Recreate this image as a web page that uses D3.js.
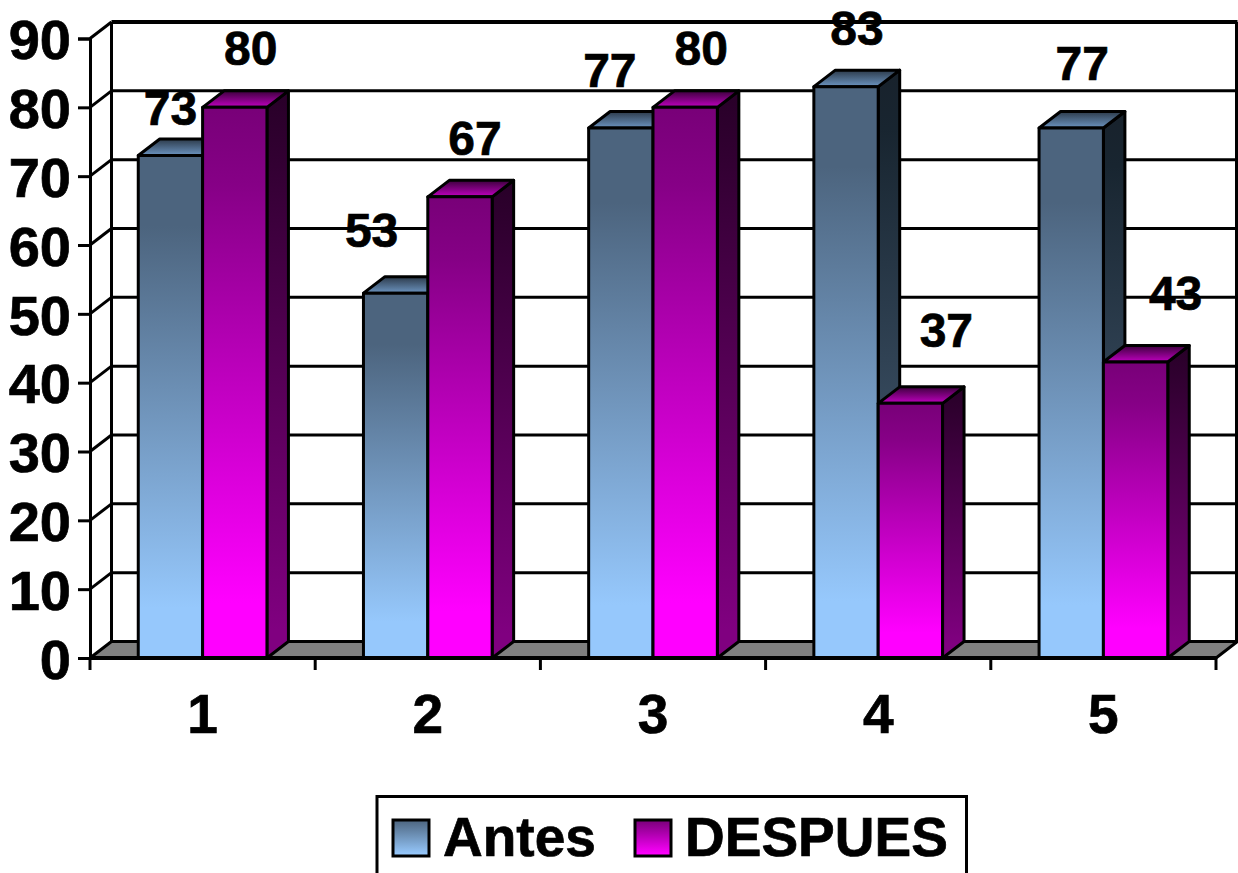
<!DOCTYPE html>
<html>
<head>
<meta charset="utf-8">
<script src="https://cdn.jsdelivr.net/npm/d3@7/dist/d3.min.js"></script>
<style>
html,body{margin:0;padding:0;background:#fff;overflow:hidden}
text{font-family:"Liberation Sans",Arial,sans-serif;font-weight:700;fill:#000;stroke:#000;stroke-width:0.7px}
</style>
</head>
<body>
<svg id="chart" width="1238" height="873"></svg>
<script>
// Chart data
const categories = ["1", "2", "3", "4", "5"];
const seriesNames = ["Antes", "DESPUES"];
const antes = [73, 53, 77, 83, 77];
const despues = [80, 67, 80, 37, 43];
const yTicks = [0, 10, 20, 30, 40, 50, 60, 70, 80, 90];

// Hand-placed label nudges (pixels from the default spot above each bar's centre)
const antesLabelNudge = [[0, 0], [-24, -15], [-11, -10], [11, -11], [11, -17]];
const despuesLabelNudge = [[16, -11], [15, -11], [16, -11], [36, -25], [40, -21]];

const svg = d3.select("#chart");
const depthX = 21.5, depthY = 16.5;
const x = d3.scaleBand().domain(categories).range([90, 1216]);
const y = d3.scaleLinear().domain([0, 90]).range([658, 38.5]);
const bx = d3.scaleBand().domain(seriesNames).range([0, x.bandwidth()])
  .paddingInner(0).paddingOuter(0.75);

// Vertical colour ramps for the faces of each series
const palettes = {
  Antes:   {front: ["#4c647e", "#4c647e", "#96c8fc"], side: ["#18222c", "#182530", "#4c647e"], top: ["#2c3a4a", "#6c94c0"]},
  DESPUES: {front: ["#780078", "#860086", "#ff00ff"], side: ["#280028", "#300030", "#800080"], top: ["#3c003c", "#c000c0"]}
};
const defs = svg.append("defs");
function ramp(id, colours, offsets) {
  const g = defs.append("linearGradient").attr("id", id)
    .attr("x1", 0).attr("y1", 0).attr("x2", 0).attr("y2", 1);
  colours.forEach((c, i) => g.append("stop").attr("offset", offsets[i]).attr("stop-color", c));
}
seriesNames.forEach(s => {
  ramp(s + "-front", palettes[s].front, [0, 0.14, 0.9]);
  ramp(s + "-side", palettes[s].side, [0, 0.1, 0.95]);
  ramp(s + "-top", palettes[s].top, [0, 1]);
  ramp(s + "-key", [palettes[s].front[0], palettes[s].front[2]], [0, 0.95]);
});

const line = (g, x1, y1, x2, y2, w = 3) => g.append("line")
  .attr("x1", x1).attr("y1", y1).attr("x2", x2).attr("y2", y2)
  .attr("stroke", "#000").attr("stroke-width", w);

const [xL, xR] = x.range();
const y0 = y(0), yMax = y(90);

// Floor of the 3-D box
svg.append("polygon").attr("fill", "#808080").attr("stroke", "#000").attr("stroke-width", 3)
  .attr("stroke-linejoin", "round")
  .attr("points", [[xL, y0], [xL + depthX, y0 - depthY], [xR + depthX, y0 - depthY], [xR, y0]].join(" "));

// Back wall gridlines and their returns along the side wall
const walls = svg.append("g");
yTicks.forEach(t => {
  if (t > 0) line(walls, xL, y(t), xL + depthX, y(t) - depthY, 3);
  line(walls, xL + depthX, y(t) - depthY, xR + depthX, y(t) - depthY, t === 90 ? 4 : 3);
});
line(walls, xL + depthX, y(90) - depthY, xL + depthX, y0 - depthY, 3);
line(walls, xR + depthX - 1, y(90) - depthY, xR + depthX - 1, y0 - depthY, 3);

// Axes
const yAxis = d3.axisLeft(y).tickValues(yTicks).tickSize(12).tickPadding(7);
const xAxis = d3.axisBottom(x).tickSize(0).tickPadding(0);
const gy = svg.append("g").attr("transform", `translate(${xL},0)`).call(yAxis);
gy.selectAll("line").attr("stroke", "#000").attr("stroke-width", 3);
gy.select(".domain").attr("stroke", "#000").attr("stroke-width", 3);
gy.selectAll("text").attr("font-size", 56).attr("fill", "#000").attr("dy", "0.36em")
  .style("font-family", '"Liberation Sans",Arial,sans-serif').style("font-weight", 700);

const gx = svg.append("g").attr("transform", `translate(0,${y0})`).call(xAxis);
gx.select(".domain").remove();
gx.selectAll("text").attr("font-size", 55).attr("fill", "#000").attr("y", 75).attr("dy", 0)
  .style("font-family", '"Liberation Sans",Arial,sans-serif').style("font-weight", 700);
// Category separators sit on the band edges rather than the band centres
const gxSep = svg.append("g");
[...categories.map(c => x(c)), xR].forEach(px => line(gxSep, px, y0, px, y0 + 12, 3));
line(gxSep, xL, y0, xR, y0, 4);

// Bars
const rows = categories.flatMap((c, i) => [
  {c, s: "Antes", v: antes[i], nudge: antesLabelNudge[i]},
  {c, s: "DESPUES", v: despues[i], nudge: despuesLabelNudge[i]}
]);
const bars = svg.append("g").selectAll("g").data(rows).join("g");
const outline = sel => sel.attr("stroke", "#000").attr("stroke-width", 3).attr("stroke-linejoin", "round");
const left = d => x(d.c) + bx(d.s);
const right = d => left(d) + bx.bandwidth();
bars.append("polygon").call(outline).attr("fill", d => `url(#${d.s}-side)`)
  .attr("points", d => [[right(d), y(d.v)], [right(d) + depthX, y(d.v) - depthY], [right(d) + depthX, y0 - depthY], [right(d), y0]].join(" "));
bars.append("polygon").call(outline).attr("fill", d => `url(#${d.s}-top)`)
  .attr("points", d => [[left(d), y(d.v)], [left(d) + depthX, y(d.v) - depthY], [right(d) + depthX, y(d.v) - depthY], [right(d), y(d.v)]].join(" "));
bars.append("rect").call(outline).attr("fill", d => `url(#${d.s}-front)`)
  .attr("x", left).attr("y", d => y(d.v)).attr("width", bx.bandwidth()).attr("height", d => y0 - y(d.v));
// Bottom edge of the bars is redrawn over the floor
line(svg.append("g"), xL, y0, xR, y0, 4);

// Value labels
svg.append("g").selectAll("text").data(rows).join("text")
  .attr("text-anchor", "middle").attr("font-size", 48)
  .attr("x", d => left(d) + bx.bandwidth() / 2 + d.nudge[0])
  .attr("y", d => y(d.v) - 31 + d.nudge[1])
  .text(d => d.v);

// Legend, whose frame runs off the bottom of the page
const legend = svg.append("g");
legend.append("path").attr("fill", "#fff").attr("stroke", "#000").attr("stroke-width", 3)
  .attr("d", "M377,875V796.5H966.5V875");
const keyX = [393, 635], labelX = [443, 685];
seriesNames.forEach((s, i) => {
  legend.append("rect").attr("x", keyX[i]).attr("y", 820).attr("width", 36).attr("height", 36)
    .attr("fill", `url(#${s}-key)`).attr("stroke", "#000").attr("stroke-width", 3);
  legend.append("text").attr("x", labelX[i]).attr("y", 856).attr("font-size", 55).text(s);
});
</script>
</body>
</html>
